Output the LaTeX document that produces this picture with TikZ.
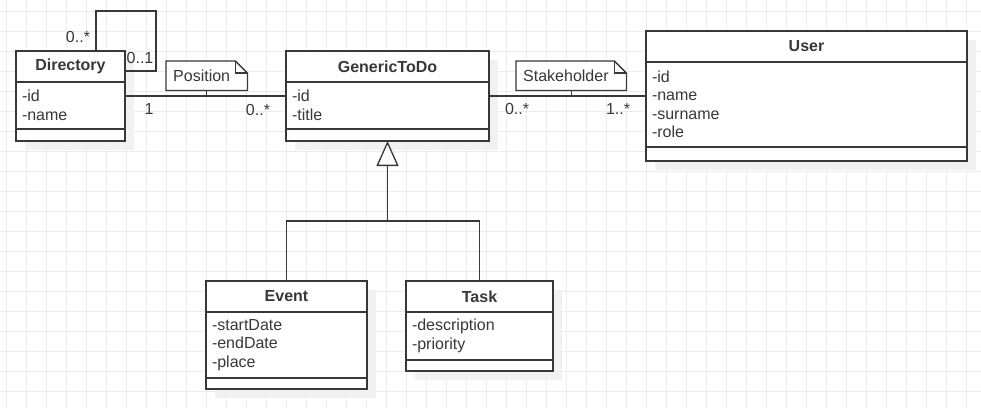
\documentclass[tikz,border=0pt]{standalone}
\usepackage{fontspec}
\setmainfont{Liberation Sans}
\definecolor{umlline}{RGB}{56,56,56}
\definecolor{umlgrid}{RGB}{236,236,236}
\definecolor{umlshadow}{RGB}{241,241,241}
\usetikzlibrary{
  arrows.meta,
  backgrounds,
  fit,
  positioning,
}
\tikzset{
  classhead/.style={draw=umlline,line width=1.3pt,fill=white,rectangle,minimum height=31,outer sep=0,font=\fontsize{16}{18.5}\selectfont\bfseries},
  classattr/.style={draw=umlline,line width=1.3pt,fill=white,rectangle,align=left,inner xsep=6,inner ysep=3,outer sep=0},
  classmeth/.style={draw=umlline,line width=1.3pt,fill=white,rectangle,outer sep=0},
  classframe/.style={inner sep=0,outer sep=0},
  classshadow/.style={fill=umlshadow},
  notetext/.style={rectangle,align=left,inner xsep=7,minimum height=29,anchor=north west},
  noteshape/.style={draw=umlline,line width=1.3pt,fill=white},
  assoc/.style={draw=umlline,line width=1.3pt},
  gen/.style={draw=umlline,line width=1.3pt,-{Triangle[length=25pt,width=22pt,fill=white]}},
  mult/.style={inner sep=0},
  gridline/.style={draw=umlgrid,line width=1pt},
}

\begin{document}
\begin{tikzpicture}[x=1pt,y=-1pt,node distance=0mm and 0mm,every node/.style={font=\fontsize{16}{18.5}\selectfont,text=umlline}]
    \useasboundingbox (0,0) rectangle (981,408);

    % classes
    \node[classhead,minimum width=109,anchor=north west]  (dirH)  at (16,51)   {Directory};
    \node[classattr,text width=97,minimum height=47]      (dirA)  [below=of dirH] {-id\\-name};
    \node[classmeth,minimum width=109,minimum height=12]  (dirM)  [below=of dirA] {};
    \node[classframe,fit=(dirH)(dirM)] (dir) {};

    \node[classhead,minimum width=203,anchor=north west]  (gtdH)  at (286,51)  {GenericToDo};
    \node[classattr,text width=191,minimum height=47]     (gtdA)  [below=of gtdH] {-id\\-title};
    \node[classmeth,minimum width=203,minimum height=12]  (gtdM)  [below=of gtdA] {};
    \node[classframe,fit=(gtdH)(gtdM)] (gtd) {};

    \node[classhead,minimum width=321,anchor=north west]  (usrH)  at (646,31)  {User};
    \node[classattr,text width=309,minimum height=85]     (usrA)  [below=of usrH] {-id\\-name\\-surname\\-role};
    \node[classmeth,minimum width=321,minimum height=14]  (usrM)  [below=of usrA] {};
    \node[classframe,fit=(usrH)(usrM)] (usr) {};

    \node[classhead,minimum width=161,anchor=north west]  (evH)   at (206,281) {Event};
    \node[classattr,text width=149,minimum height=66]     (evA)   [below=of evH] {-startDate\\-endDate\\-place};
    \node[classmeth,minimum width=161,minimum height=11]  (evM)   [below=of evA] {};
    \node[classframe,fit=(evH)(evM)] (ev) {};

    \node[classhead,minimum width=147,anchor=north west]  (tskH)  at (406,281) {Task};
    \node[classattr,text width=135,minimum height=48]     (tskA)  [below=of tskH] {-description\\-priority};
    \node[classmeth,minimum width=147,minimum height=11]  (tskM)  [below=of tskA] {};
    \node[classframe,fit=(tskH)(tskM)] (tsk) {};

    % association notes
    \node[notetext,text width=67] (posN) at (166,61) {Position};
    \node[notetext,text width=96] (stkN) at (516,61) {Stakeholder};

    % associations
    \draw[assoc] (dir.east) -- (gtd.west);
    \draw[assoc] (gtd.east) -- (usr.west);
    \draw[assoc] (posN.south) -- (posN.south |- dir.east);
    \draw[assoc] (stkN.south) -- (stkN.south |- gtd.east);

    \coordinate (loopA) at ([xshift=-29pt]dir.north east);
    \coordinate (loopB) at ([yshift=-20pt]dir.north east);
    \draw[assoc] (loopA) |- ++(60,-40) |- (loopB);

    % generalization
    \coordinate (genjoin) at ([yshift=-80pt]gtd.south);
    \draw[assoc] (evH.north) |- (genjoin) -| (tskH.north);
    \draw[gen] (genjoin) -- (gtd.south);

    % multiplicities
    \node[mult] (mLoopS) at (78,37)   {0..*};
    \node[mult] (mLoopE) at (140,58)  {0..1};
    \node[mult] (mPosS)  at (149,109) {1};
    \node[mult] (mPosE)  at (258,110) {0..*};
    \node[mult] (mStkS)  at (517,109) {0..*};
    \node[mult] (mStkE)  at (618,109) {1..*};

    \begin{scope}[on background layer]
        \foreach \gx in {0,...,48} \draw[gridline] (6.7+20*\gx,0) -- (6.7+20*\gx,408);
        \foreach \gy in {0,...,19} \draw[gridline] (0,11.7+20*\gy) -- (981,11.7+20*\gy);
        \foreach \cls in {dir,gtd,usr,ev,tsk}
            \fill[classshadow] ([shift={(9pt,-9pt)}]\cls.south west) rectangle ([shift={(9pt,-9pt)}]\cls.north east);
        \foreach \nt in {posN,stkN} {
            \draw[noteshape] (\nt.south west) -- (\nt.north west) -- ([xshift=-12pt]\nt.north east) -- ([yshift=-12pt]\nt.north east) -- (\nt.south east) -- cycle;
            \draw[noteshape,fill=none] ([xshift=-12pt]\nt.north east) |- ([yshift=-12pt]\nt.north east);
        }
    \end{scope}
\end{tikzpicture}
\end{document}
